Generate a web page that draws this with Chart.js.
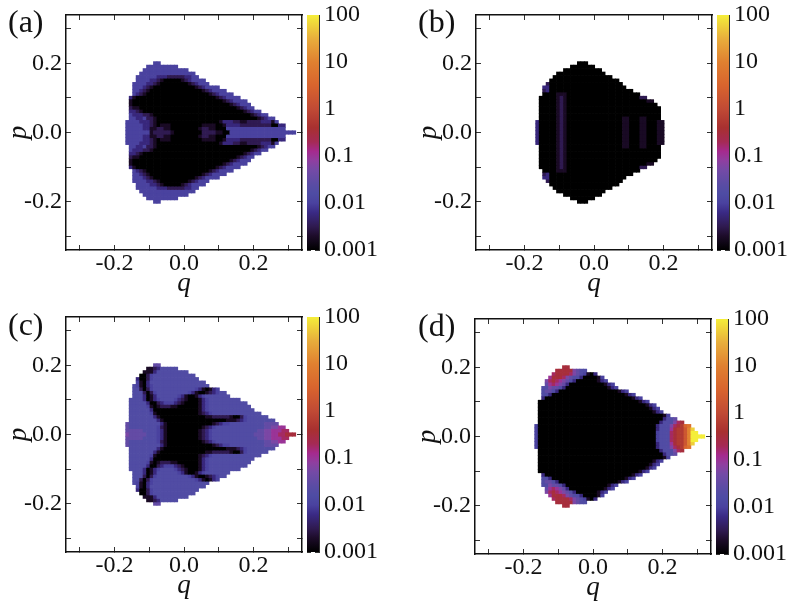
<!DOCTYPE html>
<html><head><meta charset="utf-8">
<style>
html,body{margin:0;padding:0;background:#fff;width:787px;height:604px;overflow:hidden}
canvas{position:absolute}
.tag{position:absolute;font:32px "Liberation Serif",serif;color:#111;line-height:36px}
</style>
<script src="https://cdn.jsdelivr.net/npm/chart.js@4/dist/chart.umd.js"></script>
</head><body>
<script>
// Tick positions and labels
const qTicks=[-0.3,-0.2,-0.1,0,0.1,0.2,0.3];
const labelledTicks=[-0.2,0,0.2];
const cbMajorTicks=[100,10,1,0.1,0.01,0.001];
const cbMajorLabels=["100","10","1","0.1","0.01","0.001"];
const cbMinorTicks=[31.6,3.16,0.316,0.0316,0.00316];
// value of each cell code (0..k, base 36)
const levelValues=[0.001,0.0018,0.0032,0.0056,0.01,0.018,0.032,0.056,0.1,0.18,0.32,0.56,1,1.8,3.2,5.6,10,18,32,56,100];
// colour ramp: log10(value), colour
const rampLogs=[-3,-2.7,-2.5,-2.2,-2,-1.8,-1.6,-1.3,-1.1,-0.9,-0.7,-0.4,0,0.5,1,1.5,2];
const rampColors=["#000000","#1d0c2a","#2f1a50","#3a2a85","#4a429f","#4e4ca4","#5a4ca4","#744aa6","#8f3fa0","#a52a8e","#a52a55","#a83030","#c04a35","#d8642e","#e08030","#e8ae3c","#f5ee3a"];
// first q column of every row, top row (p=0.20) to centre row (p=0)
const startsOutline=[-9,-11,-12,-13,-14,-14,-15,-15,-15,-15,-16,-16,-16,-16,-16,-16,-16,-17,-17,-17,-17];
const startsB=[-5,-7,-9,-11,-12,-13,-14,-15,-15,-15,-16,-16,-16,-16,-16,-16,-16,-17,-17,-17,-17];
// cell codes by row ("4x3" means 444); the lower half mirrors these rows
const rowsA=["4x2","4x9","4x13","4x16","444444 333 22222 33 44","4x4 33 2 1 0x5 1 2 3 4x4","4x4 33 2 1 0x8 123 4x3","444 3 2 1 0x12 123 4x4","44 321 0x15 123 4x4","4321 0x18 123 4x4","31 0x23 123 4x4","1 0x26 123 4x4","1 0x28 123 4x3","2 11 0x28 123 44","33 2 1 0x29 123 44","4333221 0x28 123 44","44334221 0x29 123 44","444433321 0x18 13332211222233314","444443321 01110 0x8 1111 00 1 333322 2222 222 00 33","44444331 1221 1 0x8 12211 000 4x17","4 4x6 1 2 2222 1 0x8 22221 1 00 4x19"];
const rowsB=["0x3","0x7","0x11","0x14","0x17","0x20","2 0x21","33 0x22","23 0x24","0x4 111 0x21","0x5 121 0x21 22","0x5 121 0x23 11","0x5 121 0x26","0x5 121 0x27","0x5 121 0x27","0x5 121 0x27","0x5 121 0x16 11 000 11 0x4","3 0x5 121 0x16 11 000 11 000 11","3 0x5 121 0x16 11 000 11 000 11","3 0x5 121 0x16 11 000 11 000 11","3 0x5 121 0x16 11 000 11 000 11"];
const rowsC=["66","1123 5x5","1 1 1 3 5x9","0 0 2 4 5x12","3 0 0 2 4 5x13","4 1 0 3 5 5x15","5 4 1 0 3 4 5x16","55 2 0 2 4 5x12 4 3 1 0 1 3 4","555 2 0 2 4 5x9 4 3 1 00 1 2 3 4 55","555 3 0 1 3 5x6 4 3 1 00 1 3 4 5x7","5x4 3 0 1 3 4 5x4 4 3 2 1 000 1 3 4 5x9","5x5 3 0 0 2 3 4 44 3 2 1 0x4 1 3 4 5x11","5x5 4 1 0 1 222 11 0x6 1 3 4 5x12","5x6 3 0x13 1 3 4 5x13","5x6 4 1 0x12 1 2 3 4 5x14","5x7 3 1 0x13 11 22 2 22 1 00 2 4 5x6","5x8 3 1 0x18 1 1 1 2 3 4 5x8","6 5x9 3 1 0x13 1 2 3 4 4 5x10 6x4","6 5x8 4 2 1 0x10 1 2 3 4 5x14 66 77 8 8","6 666655554 3 1 0x9 1 2 3 4 5x13 66 77 888 9 9","7 666665554 3 1 0x9 1 2 3 4 5x12 666 77 88 99 aaa"];
const rowsD=["aa","aaaaa7655","9aaaa97654 103","8aaa97655 3 0x4 14","79a98765 3 0x6 134","689876 3 0x10 134","557665 3 0x12 134","5665 3 0x17 134","55 3 0x21 134","3 0x25 134","0x29 134","0x31 134","0x32 134","0x33 134","0x36 14","0x36 3556","0x35 3 555 7 9 a","4 0x34 3 555 7 9 a b e f","4 0x34 3 555 8 a b b d g j","4 0x34 4 555 9 a b b d g k k","4 0x34 4 555 9 a b b d g k k k k"];

const SERIF='"Liberation Serif",serif';
function hex(c){return [1,3,5].map(i=>parseInt(c.substr(i,2),16));}
function colourOf(v){
  const l=Math.log10(v);
  let i=0;while(i<rampLogs.length-2&&l>rampLogs[i+1])i++;
  const t=Math.max(0,Math.min(1,(l-rampLogs[i])/(rampLogs[i+1]-rampLogs[i])));
  const a=hex(rampColors[i]),b=hex(rampColors[i+1]);
  return 'rgb('+a.map((x,k)=>Math.round(x+(b[k]-x)*t)).join(',')+')';
}
function expand(s){return s.trim().split(/\s+/).map(tok=>{const m=tok.match(/^(\w)x(\d+)$/);return m?m[1].repeat(+m[2]):tok;}).join('');}
function cells(rows,starts){
  const out=[];
  rows.forEach((row,r)=>{
    const j=20-r, codes=expand(row);
    [...codes].forEach((c,k)=>{
      const v=levelValues[parseInt(c,36)];
      const q=(starts[r]+k)*0.01+0.007;
      out.push({x:q,y:j*0.01,v});
      if(j>0)out.push({x:q,y:-j*0.01,v});
    });
  });
  return out;
}
function addCanvas(left,top,w,h){
  const c=document.createElement('canvas');
  c.width=w;c.height=h;
  c.style.cssText=`left:${left}px;top:${top}px;width:${w}px;height:${h}px`;
  document.body.appendChild(c);return c;
}
function fixedSize(prop,val){return s=>{s[prop]=val;s.paddingTop=s.paddingBottom=s.paddingLeft=s.paddingRight=0;};}
function setTicks(list){return s=>{s.ticks=list.map(v=>({value:v}));};}
function heatChart(boxL,boxT,boxW,boxH,rows,starts){
  const LEFT=66,BOTTOM=50,RIGHT=3,TOP=3;
  const data=cells(rows,starts);
  const inner={color:'#333',tickColor:'#333',tickWidth:1,tickLength:-5,drawOnChartArea:false};
  const border={color:'#111',width:1.5};
  const range={min:-0.34,max:0.34};
  const fmt=v=>labelledTicks.some(t=>Math.abs(t-v)<1e-9)?v.toFixed(1):'';
  const tickFont={family:SERIF,size:24};
  new Chart(addCanvas(boxL-LEFT,boxT-TOP,Math.ceil(LEFT+boxW+RIGHT),Math.ceil(TOP+boxH+BOTTOM)),{
    type:'scatter',
    data:{datasets:[{data,parsing:false,showLine:false,pointStyle:'rect',pointRadius:2.95,pointHoverRadius:2.95,pointBorderWidth:0,
      pointBackgroundColor:data.map(d=>colourOf(d.v))}]},
    options:{
      responsive:false,animation:false,events:[],
      layout:{padding:{top:TOP,right:RIGHT,left:0,bottom:0}},
      plugins:{legend:{display:false},tooltip:{enabled:false},title:{display:false}},
      scales:{
        x:{type:'linear',position:'bottom',...range,afterBuildTicks:setTicks(qTicks),afterFit:fixedSize('height',BOTTOM),
          grid:inner,border,
          ticks:{font:tickFont,color:'#111',padding:4,maxRotation:0,autoSkip:false,callback:fmt},
          title:{display:true,text:'q',color:'#111',font:{family:SERIF,size:27,style:'italic'},padding:0}},
        y:{type:'linear',position:'left',...range,afterBuildTicks:setTicks(qTicks),afterFit:fixedSize('width',LEFT),
          grid:inner,border,
          ticks:{font:tickFont,color:'#111',padding:9,autoSkip:false,callback:fmt},
          title:{display:true,text:'p',color:'#111',font:{family:SERIF,size:27,style:'italic'},padding:{top:3,bottom:0}}},
        x2:{type:'linear',position:'top',...range,afterBuildTicks:setTicks(qTicks),afterFit:fixedSize('height',0),
          grid:inner,border,ticks:{display:false}},
        y2:{type:'linear',position:'right',...range,afterBuildTicks:setTicks(qTicks),afterFit:fixedSize('width',0),
          grid:inner,border,ticks:{display:false}}
      }
    }
  });
}
function barChart(barL,boxT,barW,boxH){
  const PAD=2,TOP=14,RIGHT=62,BOTTOM=14;
  const all=[...cbMajorTicks,...cbMinorTicks];
  const grid={color:'#333',tickColor:'#333',tickWidth:1,tickLength:-4,drawOnChartArea:false};
  const border={color:'#333',width:1};
  const range={min:0.001,max:100};
  new Chart(addCanvas(barL-PAD,boxT-TOP,Math.ceil(PAD+barW+RIGHT),Math.ceil(TOP+boxH+BOTTOM)),{
    type:'bar',
    data:{labels:[''],datasets:[{data:[[0.001,100]],barPercentage:1,categoryPercentage:1,borderWidth:0,
      backgroundColor(ctx){
        const a=ctx.chart.chartArea;if(!a)return '#000';
        const g=ctx.chart.ctx.createLinearGradient(0,a.bottom,0,a.top);
        rampLogs.forEach((l,i)=>g.addColorStop((l+3)/5,rampColors[i]));
        return g;
      }}]},
    options:{
      responsive:false,animation:false,events:[],
      layout:{padding:{top:TOP,right:0,left:0,bottom:BOTTOM}},
      plugins:{legend:{display:false},tooltip:{enabled:false}},
      scales:{
        x:{display:false},
        y:{type:'logarithmic',position:'right',...range,afterBuildTicks:setTicks(all),afterFit:fixedSize('width',RIGHT),
          grid,border,
          ticks:{font:{family:SERIF,size:24},color:'#111',padding:9,autoSkip:false,
            callback(v){const i=cbMajorTicks.indexOf(v);return i<0?'':cbMajorLabels[i];}}},
        yl:{type:'logarithmic',position:'left',...range,afterBuildTicks:setTicks(all),afterFit:fixedSize('width',PAD),
          grid,border,ticks:{display:false}}
      }
    }
  });
}
function tag(text,x,y){const d=document.createElement('div');d.className='tag';d.textContent=text;d.style.left=x+'px';d.style.top=y+'px';document.body.appendChild(d);}

heatChart(66,15,235.5,235,rowsA,startsOutline); barChart(307,15,12,235);
heatChart(476,15,235.5,235,rowsB,startsB);      barChart(717,15,12,235);
heatChart(66,317,235.5,235,rowsC,startsOutline);barChart(307,317,12,235);
heatChart(474.5,319,235.5,235,rowsD,startsOutline);barChart(715.5,319,12,235);
tag('(a)',8,3);tag('(b)',418,3);tag('(c)',8,306);tag('(d)',418,307);
</script>
</body></html>
